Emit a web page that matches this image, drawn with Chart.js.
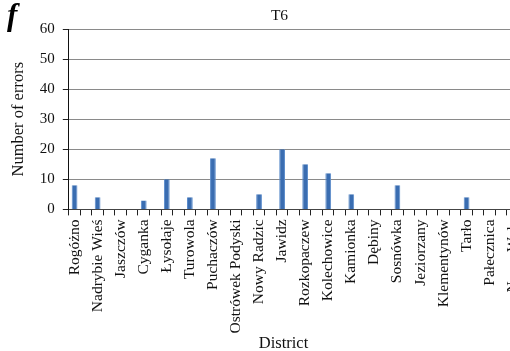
<!DOCTYPE html>
<html>
<head>
<meta charset="utf-8">
<script src="https://cdn.jsdelivr.net/npm/chart.js@4.4.1/dist/chart.umd.min.js"></script>
<style>
  html, body { margin: 0; padding: 0; background: #fff; overflow: hidden; }
  #wrap { position: relative; width: 560px; height: 351px; }
  .txt {
    position: absolute; color: #111; white-space: nowrap; text-align: center;
    font-family: 'Liberation Serif', 'Times New Roman', serif;
  }
  #panel { left: 7px; top: -3px; font-size: 31px; font-style: italic; font-weight: bold; color: #000; }
  #chartTitle { left: 229.5px; width: 100px; top: 7px; font-size: 15.5px; line-height: 16px; }
  #xTitle { left: 233.5px; width: 100px; top: 334px; font-size: 16.5px; line-height: 17px; }
</style>
</head>
<body>
<div id="wrap">
  <canvas id="chart" width="560" height="351"></canvas>
  <div id="panel" class="txt">f</div>
  <div id="chartTitle" class="txt"></div>
  <div id="xTitle" class="txt"></div>
</div>
<script>
// Districts along the x axis
const districts = [
  'Rogóżno', 'Nadrybie Wieś', 'Jaszczów', 'Cyganka', 'Łysołaje',
  'Turowola', 'Puchaczów', 'Ostrówek Podyski', 'Nowy Radzic', 'Jawidz',
  'Rozkopaczew', 'Kolechowice', 'Kamionka', 'Dębiny', 'Sosnówka',
  'Jeziorzany', 'Klementynów', 'Tarło', 'Pałecznica', 'Nowa Wola'
];
// Number of errors per district (series T6)
const errors = [8, 4, 0, 3, 10, 4, 17, 0, 5, 20, 15, 12, 5, 0, 8, 0, 0, 4, 0, 0];
// Y axis tick values
const yTicks = [0, 10, 20, 30, 40, 50, 60];

const seriesName = 'T6';
const xAxisName = 'District';
const yAxisName = 'Number of errors';

document.getElementById('chartTitle').textContent = seriesName;
document.getElementById('xTitle').textContent = xAxisName;

// Each district takes two slots on the axis: the labelled one carrying the bar
// and an empty one after it, so the axis gets a tick mark every half district.
const slotLabels = districts.flatMap(d => [d, '']);
const slotValues = errors.flatMap(v => [v, null]);

const serif = "'Liberation Serif', 'Times New Roman', serif";
Chart.defaults.font.family = serif;
Chart.defaults.color = '#000';

new Chart(document.getElementById('chart'), {
  type: 'bar',
  data: {
    labels: slotLabels,
    datasets: [{
      label: seriesName,
      data: slotValues,
      backgroundColor: '#3a6db1',
      borderColor: '#5b8ccb',
      borderWidth: { left: 1, right: 1, top: 0, bottom: 0 },
      categoryPercentage: 1.0,
      barPercentage: 0.5
    }]
  },
  options: {
    responsive: false,
    devicePixelRatio: 1,
    animation: false,
    layout: { padding: { left: 9, right: 30, top: 29, bottom: 13.5 } },
    plugins: {
      legend: { display: false },
      tooltip: { enabled: false },
      title: { display: false }
    },
    scales: {
      x: {
        offset: true,
        grid: {
          offset: true,
          drawOnChartArea: false,
          drawTicks: true,
          tickLength: 6,
          tickColor: '#222',
          tickWidth: 1
        },
        border: { display: true, color: '#444', width: 1 },
        ticks: {
          autoSkip: false,
          maxRotation: 90,
          minRotation: 90,
          padding: 4,
          color: '#111',
          font: { size: 15.5, family: serif }
        }
      },
      y: {
        min: yTicks[0],
        max: yTicks[yTicks.length - 1],
        afterBuildTicks: axis => { axis.ticks = yTicks.map(v => ({ value: v })); },
        grid: {
          color: '#8a8a8a',
          lineWidth: 1,
          drawTicks: true,
          tickLength: 6,
          tickColor: '#222'
        },
        border: { display: true, color: '#111', width: 1 },
        ticks: {
          padding: 8,
          color: '#111',
          font: { size: 15, family: serif }
        },
        title: {
          display: true,
          text: yAxisName,
          color: '#111',
          font: { size: 16.5, weight: 'normal', family: serif },
          padding: { top: 0, bottom: 3 }
        }
      }
    }
  }
});
</script>
</body>
</html>
